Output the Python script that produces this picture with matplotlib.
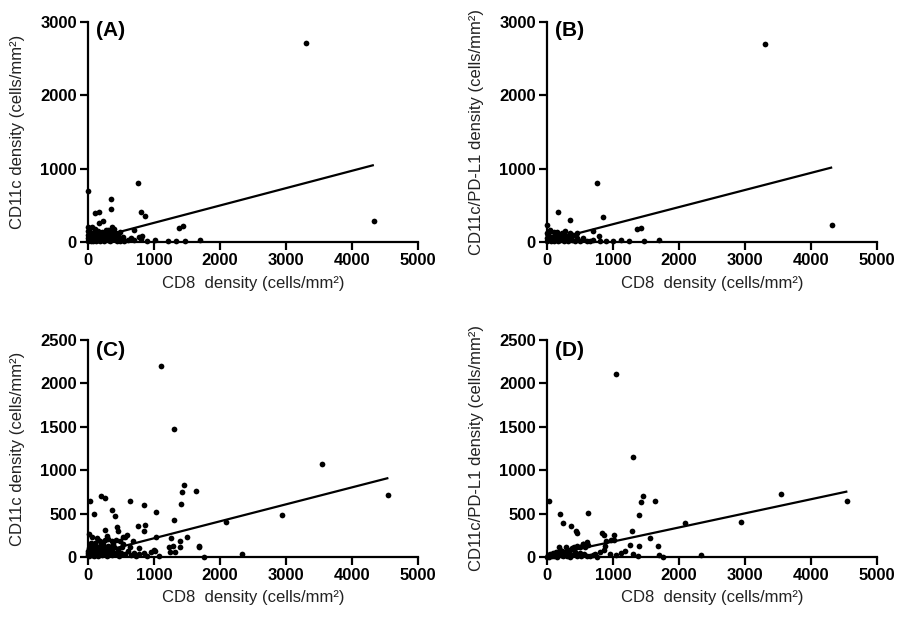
import numpy as np
import matplotlib
matplotlib.use("Agg")
import matplotlib.pyplot as plt

plt.rcParams['font.family'] = ['Liberation Sans', 'DejaVu Sans']

# --- valores (cells/mm²) ---
cd8_a = [3300, 4330, 0, 760, 350, 350, 810, 860, 100, 170, 170, 220, 365, 395, 110, 0,
         1375, 1435, 690, 1010, 1210, 1340, 1475, 1690, 525, 600, 650, 700, 780, 810, 540, 900,
         485, 815, 0, 0, 0, 0, 20, 30, 40, 50, 60, 70, 80, 90, 100, 110, 120, 130, 140, 150,
         160, 170, 180, 190, 200, 210, 230, 240, 250, 260, 280, 290, 300, 320, 330, 340, 360,
         380, 400, 420, 440, 460, 480, 500, 10, 60, 150, 270, 300]
cd11c_a = [2710, 280, 700, 800, 590, 450, 410, 350, 390, 410, 255, 280, 210, 180, 180, 210,
           185, 220, 165, 25, 15, 10, 10, 25, 70, 30, 50, 30, 70, 35, 15, 10,
           140, 80, 150, 100, 60, 20, 130, 80, 40, 10, 120, 60, 20, 90, 140, 50, 10, 100, 70, 30,
           120, 60, 10, 90, 40, 130, 70, 20, 100, 50, 140, 80, 30, 110, 60, 15, 130,
           90, 40, 120, 20, 80, 10, 50, 170, 200, 150, 160, 170]

cd8_b = [3300, 4320, 750, 160, 350, 850, 1360, 1425, 0, 790, 690, 450, 100, 350, 1120, 1240,
         1475, 1690, 900, 1000, 600, 700, 650, 800,
         0, 0, 0, 20, 40, 60, 80, 100, 120, 140, 160, 180, 200, 220, 240, 260, 280, 300, 320,
         340, 380, 400, 420, 460, 500, 550, 50, 150, 270, 10, 30]
cd11c_pdl1_b = [2700, 230, 800, 410, 300, 345, 172, 186, 230, 80, 145, 118, 140, 118, 25, 14,
                18, 27, 14, 20, 20, 30, 10, 20,
                120, 60, 15, 90, 40, 10, 70, 20, 100, 50, 10, 80, 30, 120, 60, 10, 90, 40, 20,
                70, 30, 90, 10, 50, 20, 60, 160, 130, 150, 100, 130]

cd8_c = [1100, 1300, 3550, 4550, 2940, 2090, 2330, 1450, 1425, 1635, 1405, 1300, 1025, 855,
         630, 30, 190, 250, 85, 370, 414, 260, 440, 450, 755, 870, 845, 1035, 1255, 1495, 1678,
         1682, 1750, 1395, 1290, 1222, 1240, 1390, 1315, 1070, 960, 850, 777, 640, 560, 590, 530,
         1000, 1010, 687, 530, 283, 308, 358, 384, 333, 182, 131, 106, 30, 5,
         0, 0, 10, 20, 30, 40, 50, 60, 70, 80, 90, 100, 110, 120, 130, 140, 150, 160, 170, 180,
         200, 210, 220, 230, 240, 250, 270, 290, 300, 320, 340, 360, 380, 400, 420, 450, 470,
         500, 520, 560, 600, 650, 700, 720, 780, 900, 150, 250, 420, 480, 60, 10]
cd11c_c = [2200, 1470, 1070, 715, 480, 400, 30, 830, 745, 755, 610, 427, 515, 600,
           640, 647, 705, 685, 493, 541, 472, 311, 340, 305, 358, 369, 305, 225, 215, 227, 132,
           110, 0, 180, 125, 118, 55, 115, 62, 10, 60, 50, 100, 120, 226, 250, 235,
           85, 70, 185, 150, 240, 204, 185, 150, 112, 185, 223, 166, 127, 70,
           20, 50, 100, 10, 40, 160, 80, 20, 120, 50, 10, 90, 140, 30, 60, 110, 15, 70, 40, 130,
           90, 20, 60, 150, 100, 30, 70, 10, 130, 50, 90, 20, 60, 110, 30, 80, 10,
           50, 120, 30, 70, 20, 50, 10, 30, 15, 200, 190, 200, 180, 230, 260]

cd8_d = [1050, 1300, 3550, 4550, 2940, 2090, 2330, 35, 190, 240, 365, 440, 450, 625, 830,
         870, 1010, 1015, 1450, 1420, 1630, 1400, 1290, 1555, 1400, 1252, 1687, 1700, 1750,
         547, 569, 856, 883, 1186, 1045, 948, 1305, 1381, 720, 612, 406, 287, 341, 233, 125,
         504, 893, 965, 1116, 550, 600, 580, 620, 384, 300,
         0, 10, 30, 50, 70, 90, 110, 130, 150, 170, 190, 210, 230, 250, 270, 300, 320, 350,
         380, 420, 450, 480, 520, 560, 650, 700, 760, 800, 450, 500, 180]
cd11c_pdl1_d = [2110, 1150, 730, 640, 400, 390, 27, 640, 490, 389, 358, 294, 275, 505, 280,
                256, 258, 198, 700, 630, 645, 480, 300, 216, 130, 141, 127, 20, 0,
                153, 130, 84, 122, 65, 27, 34, 38, 8, 38, 8, 115, 120, 84, 65, 27,
                46, 180, 196, 50, 150, 170, 120, 140, 100, 70,
                0, 20, 5, 30, 10, 50, 15, 60, 5, 35, 80, 20, 45, 10, 30, 15, 50, 5,
                25, 60, 10, 30, 15, 40, 10, 20, 5, 60, 130, 110, 110]

# retas de regressão (extremos)
reta_a_x, reta_a_y = [0, 4330], [25, 1050]
reta_b_x, reta_b_y = [0, 4320], [10, 1018]
reta_c_x, reta_c_y = [0, 4550], [20, 910]
reta_d_x, reta_d_y = [0, 4550], [15, 755]

xticks = [0, 1000, 2000, 3000, 4000, 5000]
yticks_top = [0, 1000, 2000, 3000]
yticks_bottom = [0, 500, 1000, 1500, 2000, 2500]

xlabel = "CD8  density (cells/mm²)"
ylabel_cd11c = "CD11c density (cells/mm²)"
ylabel_pdl1 = "CD11c/PD-L1 density (cells/mm²)"


def painel(ax, x, y, rx, ry, yticks, ylabel, letra, top_px):
    ax.scatter(x, y, s=17, color='black', linewidths=0, clip_on=False, zorder=3)
    ax.plot(rx, ry, color='black', lw=1.6, solid_capstyle='butt', zorder=2)
    ax.set_xlim(0, 5000)
    ax.set_ylim(0, yticks[-1])
    ax.set_xticks(xticks)
    ax.set_yticks(yticks)
    for s in ['top', 'right']:
        ax.spines[s].set_visible(False)
    for s in ['left', 'bottom']:
        ax.spines[s].set_linewidth(1.6)
    ax.tick_params(direction='out', length=6, width=1.6, labelsize=12, pad=2)
    for lab in ax.get_xticklabels() + ax.get_yticklabels():
        lab.set_fontweight('bold')
    ax.set_xlabel(xlabel, fontsize=12, color='#222222')
    ax.set_ylabel(ylabel, fontsize=12, color='#222222')
    ax.xaxis.set_label_coords(0.5, -0.187)
    ax.xaxis.label.set_va('center')
    ax.yaxis.set_label_coords(-0.215, 0.5)
    ax.yaxis.label.set_va('center')
    ax.text(0.024, top_px, letra, transform=ax.transAxes, fontsize=15,
            fontweight='bold', ha='left', va='center')


fig = plt.figure(figsize=(8.97, 6.19), dpi=100)
ax_a = fig.add_axes([0.0981, 0.609, 0.368, 0.3554])
ax_b = fig.add_axes([0.6098, 0.609, 0.368, 0.3554])
ax_c = fig.add_axes([0.0981, 0.1002, 0.368, 0.3505])
ax_d = fig.add_axes([0.6098, 0.1002, 0.368, 0.3505])

painel(ax_a, cd8_a, cd11c_a, reta_a_x, reta_a_y, yticks_top, ylabel_cd11c, "(A)", 1 - 8 / 220)
painel(ax_b, cd8_b, cd11c_pdl1_b, reta_b_x, reta_b_y, yticks_top, ylabel_pdl1, "(B)", 1 - 8 / 220)
painel(ax_c, cd8_c, cd11c_c, reta_c_x, reta_c_y, yticks_bottom, ylabel_cd11c, "(C)", 1 - 10 / 217)
painel(ax_d, cd8_d, cd11c_pdl1_d, reta_d_x, reta_d_y, yticks_bottom, ylabel_pdl1, "(D)", 1 - 10 / 217)

fig.savefig("out.png", dpi=100)
